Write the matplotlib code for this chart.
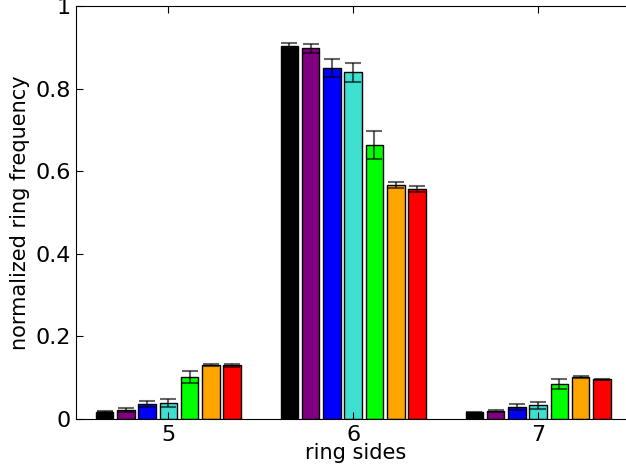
import numpy as np
import matplotlib
matplotlib.use("Agg")
import matplotlib.pyplot as plt

# ring sizes on the x axis
ring_sides = [5, 6, 7]

# one series per system, values for 5, 6, 7 membered rings
colors = ["black", "purple", "blue", "turquoise", "lime", "orange", "red"]

freq = [
    [0.018, 0.904, 0.016],
    [0.022, 0.898, 0.020],
    [0.036, 0.850, 0.030],
    [0.038, 0.839, 0.033],
    [0.102, 0.664, 0.084],
    [0.131, 0.567, 0.102],
    [0.130, 0.557, 0.096],
]

err = [
    [0.002, 0.007, 0.002],
    [0.004, 0.011, 0.003],
    [0.008, 0.022, 0.007],
    [0.010, 0.024, 0.009],
    [0.015, 0.034, 0.012],
    [0.003, 0.007, 0.002],
    [0.003, 0.007, 0.002],
]

fig = plt.figure(figsize=(6.26, 4.67), dpi=100)
ax = fig.add_axes([76/626., 48/467., 560/626., 413/467.])

width = 0.095
step = 0.115
x = np.array(ring_sides, dtype=float)

for i in range(len(colors)):
    offset = (i - 3) * step
    ax.bar(x + offset, freq[i], width, color=colors[i], edgecolor="black",
           linewidth=1.0, yerr=err[i],
           error_kw=dict(ecolor="black", alpha=0.6, lw=1.5, capsize=6, capthick=1.5))

ax.set_xlim(4.5, 7.53)
ax.set_ylim(0, 1)
ax.set_xticks(ring_sides)
ax.set_xticklabels([str(s) for s in ring_sides])
ax.set_yticks([0, 0.2, 0.4, 0.6, 0.8, 1])
ax.set_yticklabels(["0", "0.2", "0.4", "0.6", "0.8", "1"])
ax.tick_params(direction="in", top=True, right=True, length=5, labelsize=16, pad=4)

ax.set_xlabel("ring sides", fontsize=15, labelpad=-1)
ax.set_ylabel("normalized ring frequency", fontsize=15, labelpad=4)

fig.savefig("out.png", dpi=100)
